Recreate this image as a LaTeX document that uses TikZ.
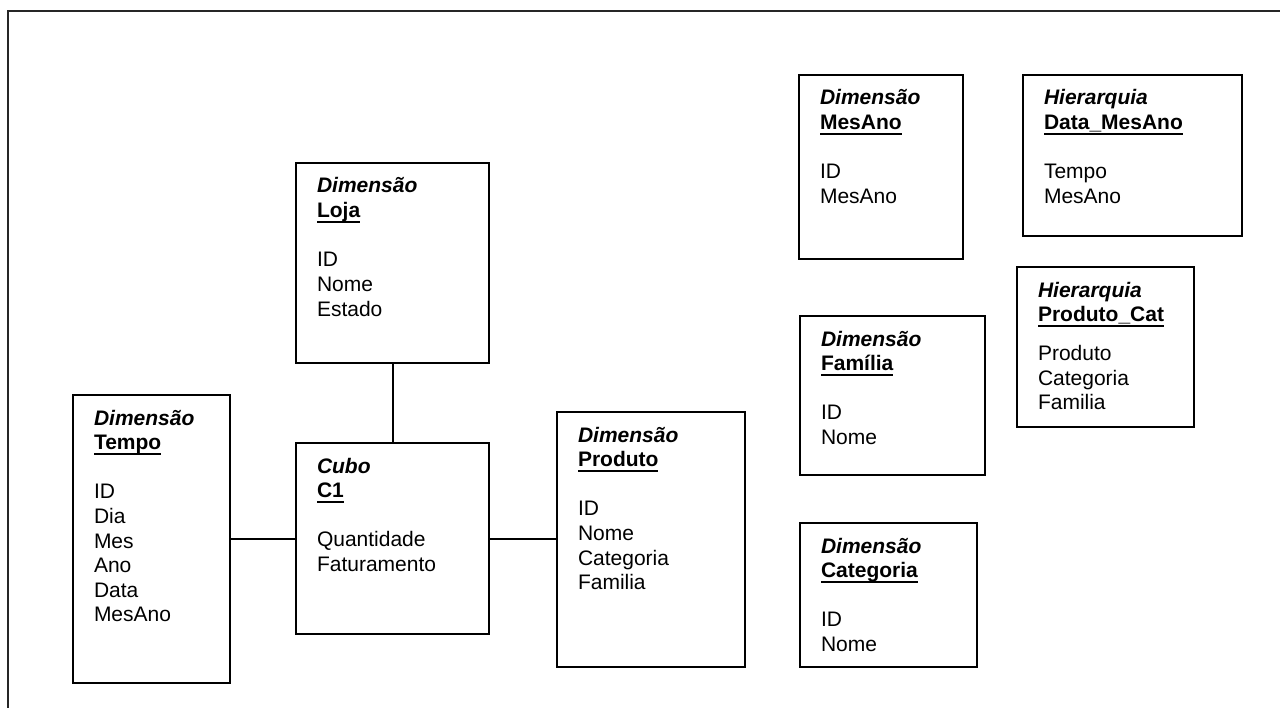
\documentclass[tikz,border=0pt]{standalone}
\usepackage{fontspec}
\setmainfont{Liberation Sans}
\newcommand\ermul[1]{\setbox0=\hbox{#1}\rlap{\rule[-5.5bp]{\wd0}{2.4bp}}\box0}
\newcommand\rw[1]{\hbox{#1}}
\newcommand\ermtext[4]{\vtop{\fontsize{21bp}{24.6bp}\selectfont\baselineskip=24.6bp
  \hbox{\bfseries\itshape #1}\hbox{\bfseries\ermul{#2}}\vskip #3 #4}}
\tikzset{
  ermbox/.style={draw=black, line width=2bp, rectangle, inner sep=0pt, outer sep=0pt, anchor=north west},
  ermtxt/.style={inner sep=0pt, outer sep=0pt, anchor=base west, align=left},
  frame/.style={draw=black!85, line width=2bp},
  link/.style={draw=black, line width=2bp}
}
\newcommand\ermentity[7]{%
  \node[ermbox, minimum width={(#4-#2)*1bp}, minimum height={(#5-#3)*1bp}] (#1) at (#2,#3) {};
  \node[ermtxt] (#1-t) at (#2+21,#3+30) {#6};
}
\begin{document}
\begin{tikzpicture}[x=1bp,y=-1bp]
\useasboundingbox (0,0) rectangle (1280,708);
\draw[frame] (8,708) -- (8,11) -- (1280,11);

\ermentity{loja}{296}{163}{489}{363}{\ermtext{Dimensão}{Loja}{24.6bp}{\rw{ID}\rw{Nome}\rw{Estado}}}{}
\ermentity{cubo}{296}{443}{489}{634}{\ermtext{Cubo}{C1}{24.6bp}{\rw{Quantidade}\rw{Faturamento}}}{}
\ermentity{tempo}{73}{395}{230}{683}{\ermtext{Dimensão}{Tempo}{24.6bp}{\rw{ID}\rw{Dia}\rw{Mes}\rw{Ano}\rw{Data}\rw{MesAno}}}{}
\ermentity{produto}{557}{412}{745}{667}{\ermtext{Dimensão}{Produto}{24.6bp}{\rw{ID}\rw{Nome}\rw{Categoria}\rw{Familia}}}{}
\ermentity{mesano}{799}{75}{963}{259}{\ermtext{Dimensão}{MesAno}{24.6bp}{\rw{ID}\rw{MesAno}}}{}
\ermentity{datames}{1023}{75}{1242}{236}{\ermtext{Hierarquia}{Data\_MesAno}{24.6bp}{\rw{Tempo}\rw{MesAno}}}{}
\ermentity{prodcat}{1017}{267}{1194}{427}{\ermtext{Hierarquia}{Produto\_Cat}{14.4bp}{\rw{Produto}\rw{Categoria}\rw{Familia}}}{}
\ermentity{familia}{800}{316}{985}{475}{\ermtext{Dimensão}{Família}{24.6bp}{\rw{ID}\rw{Nome}}}{}
\ermentity{categoria}{800}{523}{977}{667}{\ermtext{Dimensão}{Categoria}{24.6bp}{\rw{ID}\rw{Nome}}}{}

\draw[link] (loja.south) -- (cubo.north);
\draw[link] (tempo.east |- cubo.west) -- (cubo.west);
\draw[link] (cubo.east) -- (cubo.east -| produto.west);
\end{tikzpicture}
\end{document}
